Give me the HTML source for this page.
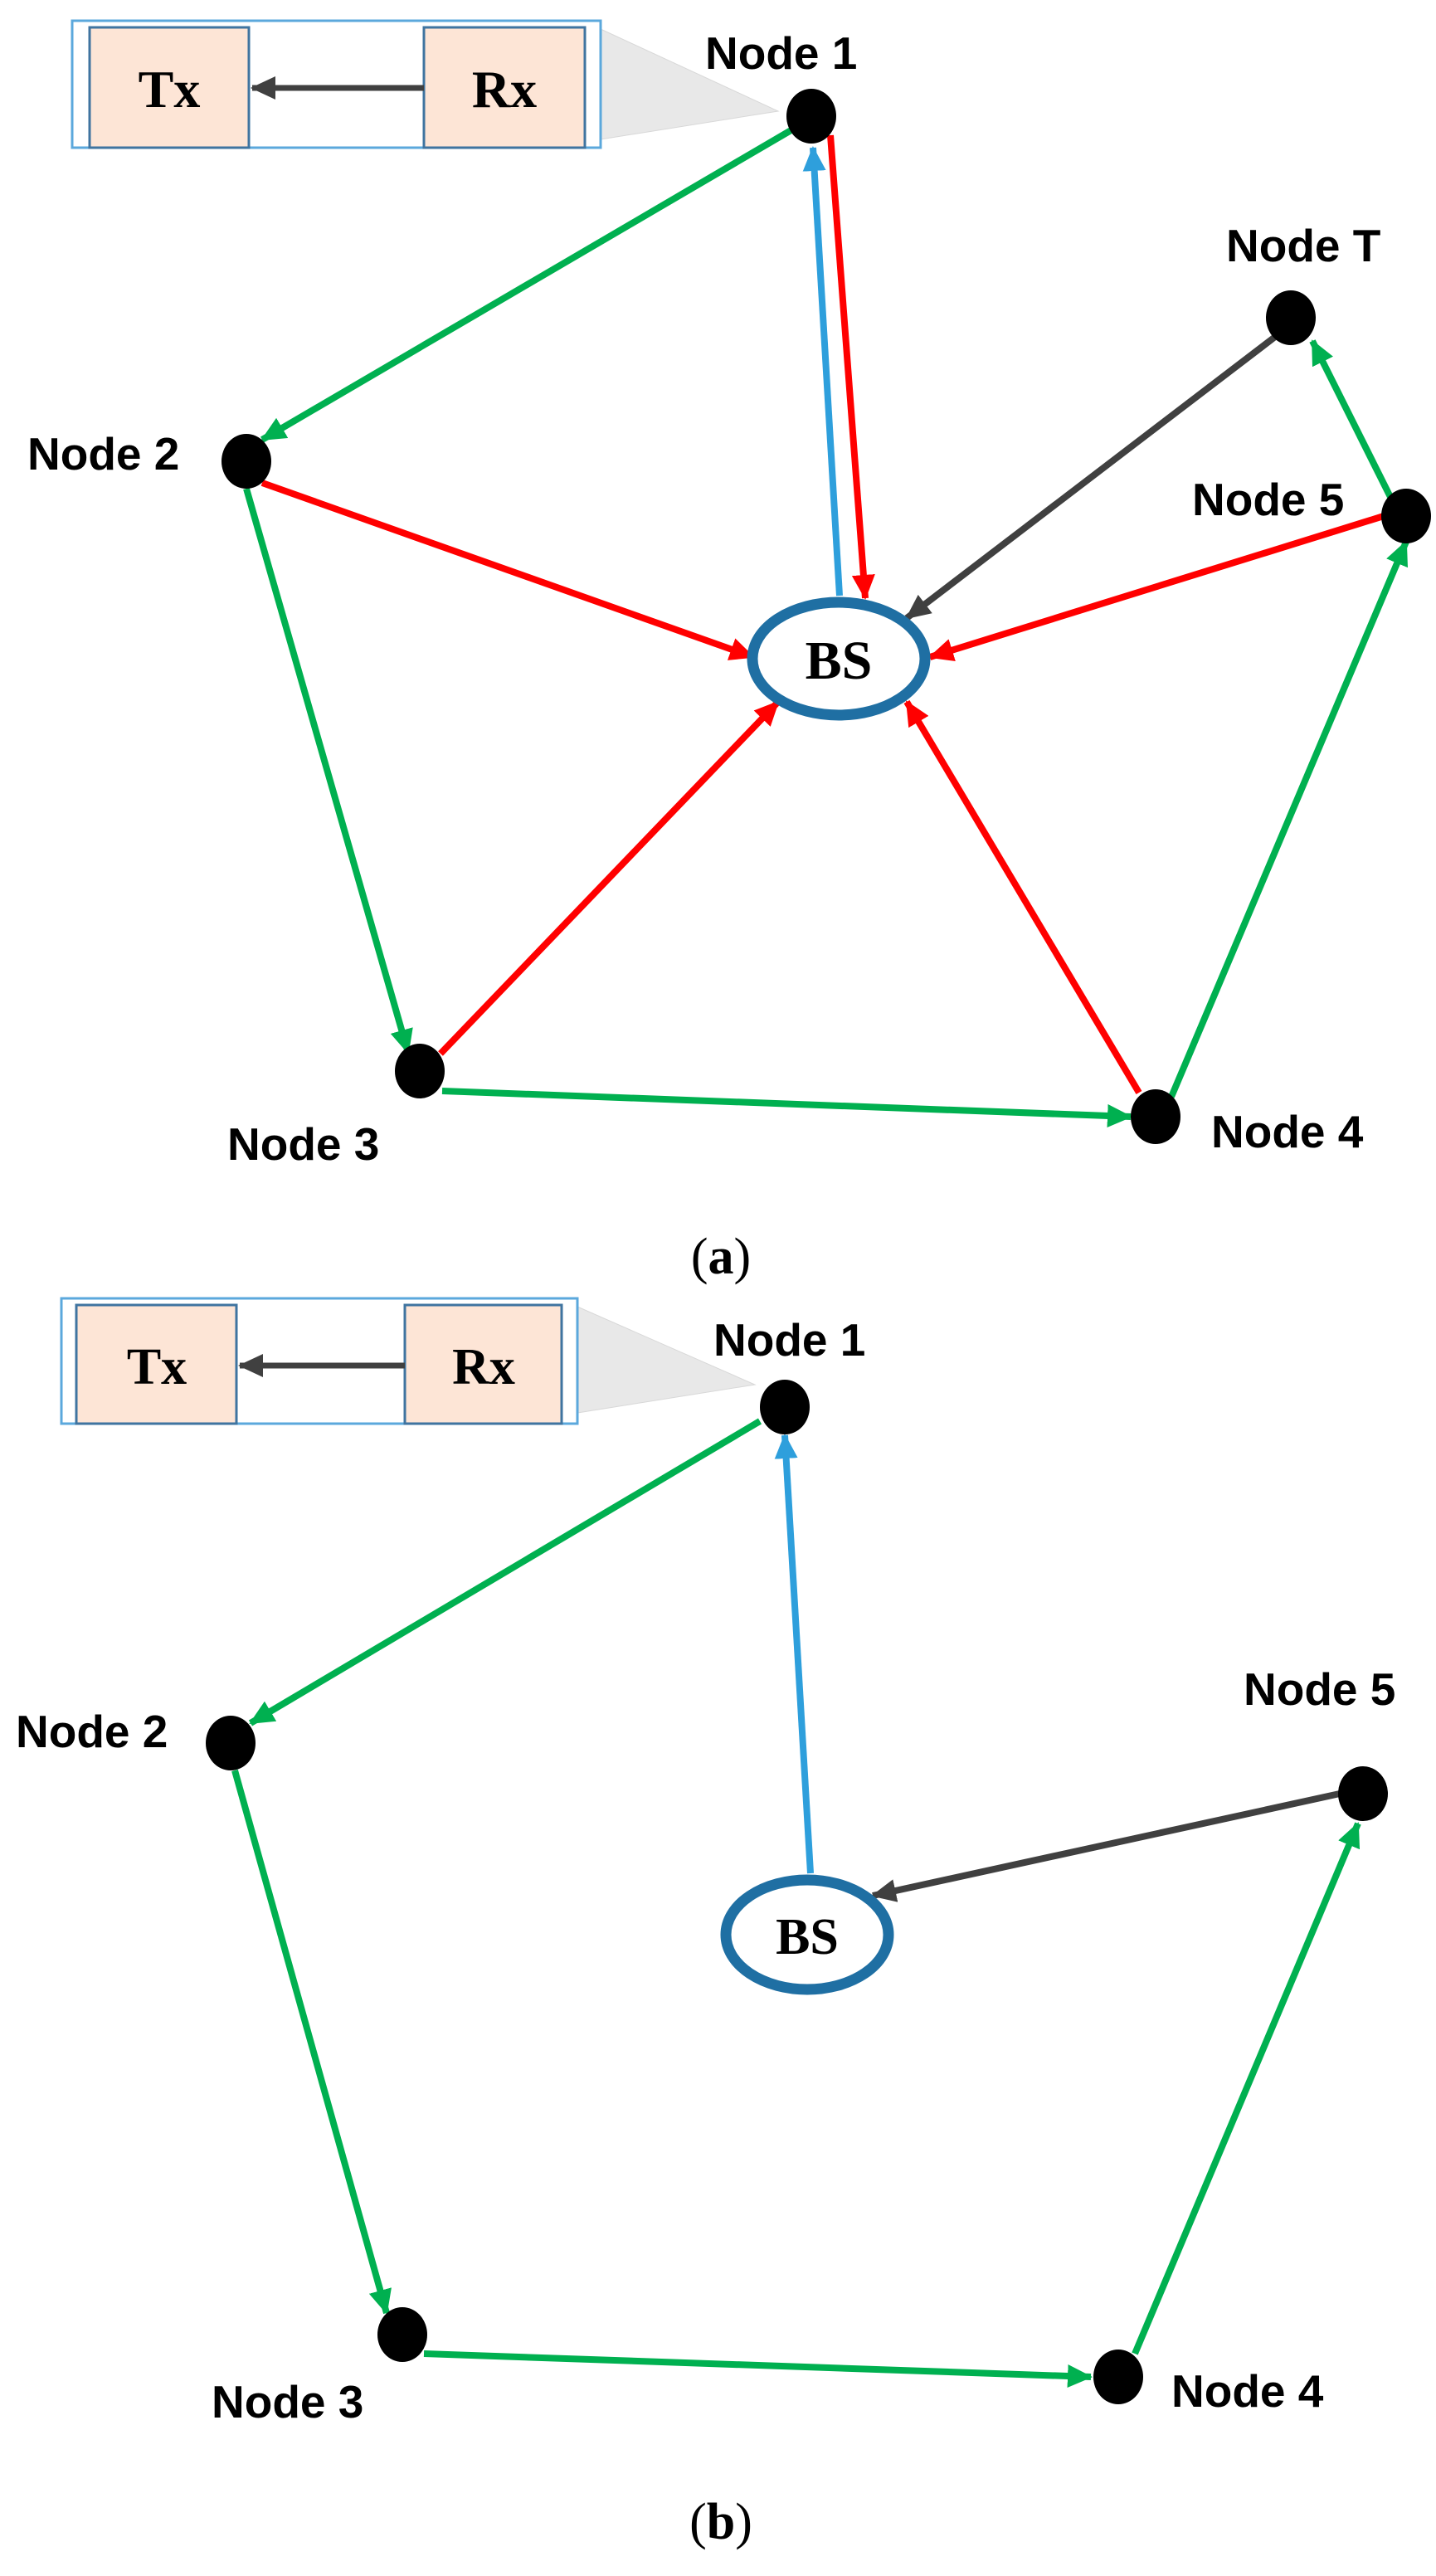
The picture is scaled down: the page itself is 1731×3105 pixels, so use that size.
<!DOCTYPE html>
<html><head><meta charset="utf-8"><style>html,body{margin:0;padding:0;background:#fff}svg{display:block}</style></head><body>
<svg width="1731" height="3105" viewBox="0 0 1731 3105" xmlns="http://www.w3.org/2000/svg">
<defs>
<marker id="g" markerUnits="userSpaceOnUse" markerWidth="30" markerHeight="28" refX="28" refY="14" orient="auto"><path d="M0,0 L30,14 L0,28 Z" fill="#00b050"/></marker>
<marker id="r" markerUnits="userSpaceOnUse" markerWidth="30" markerHeight="28" refX="28" refY="14" orient="auto"><path d="M0,0 L30,14 L0,28 Z" fill="#ff0000"/></marker>
<marker id="b" markerUnits="userSpaceOnUse" markerWidth="30" markerHeight="28" refX="28" refY="14" orient="auto"><path d="M0,0 L30,14 L0,28 Z" fill="#2e9fdc"/></marker>
<marker id="k" markerUnits="userSpaceOnUse" markerWidth="30" markerHeight="28" refX="28" refY="14" orient="auto"><path d="M0,0 L30,14 L0,28 Z" fill="#404040"/></marker>
</defs>
<g font-family="Liberation Sans, sans-serif" font-weight="bold" font-size="55" fill="#000">
<!-- (a) -->
<polygon points="724,35 938,134 724,168" fill="#e8e8e8" stroke="#d8d8d8" stroke-width="1"/>
<rect x="87" y="25" width="637" height="153" fill="#fff" stroke="#5ba8dc" stroke-width="3"/>
<rect x="108" y="33" width="192" height="145" fill="#fde5d6" stroke="#3f74a0" stroke-width="3"/>
<rect x="511" y="33" width="194" height="145" fill="#fde5d6" stroke="#3f74a0" stroke-width="3"/>
<line x1="511" y1="106" x2="304" y2="106" stroke="#404040" stroke-width="7" marker-end="url(#k)"/>
<text x="204" y="129" font-family="Liberation Serif, serif" font-size="64" text-anchor="middle">Tx</text>
<text x="608" y="129" font-family="Liberation Serif, serif" font-size="64" text-anchor="middle">Rx</text>

<g stroke-width="8" fill="none">
<line x1="957" y1="155" x2="316" y2="530" stroke="#00b050" marker-end="url(#g)"/>
<line x1="1012" y1="718" x2="980" y2="178" stroke="#2e9fdc" marker-end="url(#b)"/>
<line x1="1001" y1="163" x2="1043" y2="721" stroke="#ff0000" marker-end="url(#r)"/>
<line x1="1537" y1="406" x2="1093" y2="745" stroke="#404040" marker-end="url(#k)"/>
<line x1="1676" y1="599" x2="1582" y2="411" stroke="#00b050" marker-end="url(#g)"/>
<line x1="316" y1="582" x2="908" y2="792" stroke="#ff0000" marker-end="url(#r)"/>
<line x1="1668" y1="622" x2="1121" y2="792" stroke="#ff0000" marker-end="url(#r)"/>
<line x1="297" y1="589" x2="492" y2="1269" stroke="#00b050" marker-end="url(#g)"/>
<line x1="531" y1="1270" x2="938" y2="846" stroke="#ff0000" marker-end="url(#r)"/>
<line x1="1373" y1="1317" x2="1093" y2="846" stroke="#ff0000" marker-end="url(#r)"/>
<line x1="533" y1="1315" x2="1363" y2="1346" stroke="#00b050" marker-end="url(#g)"/>
<line x1="1412" y1="1322" x2="1695" y2="653" stroke="#00b050" marker-end="url(#g)"/>
</g>
<ellipse cx="1011" cy="794" rx="104" ry="68" fill="#fff" stroke="#1f6fa3" stroke-width="13"/>
<text x="1011" y="818" font-family="Liberation Serif, serif" font-size="66" text-anchor="middle">BS</text>
<ellipse cx="978" cy="140" rx="30" ry="33"/>
<ellipse cx="1556" cy="383" rx="30" ry="33"/>
<ellipse cx="297" cy="556" rx="30" ry="33"/>
<ellipse cx="1695" cy="622" rx="30" ry="33"/>
<ellipse cx="506" cy="1291" rx="30" ry="33"/>
<ellipse cx="1393" cy="1346" rx="30" ry="33"/>
<text x="850" y="83">Node 1</text>
<text x="1478" y="315">Node T</text>
<text x="33" y="566">Node 2</text>
<text x="1437" y="621">Node 5</text>
<text x="274" y="1398">Node 3</text>
<text x="1460" y="1383">Node 4</text>
<text x="869" y="1535" font-family="Liberation Serif, serif" font-size="62" font-weight="normal" text-anchor="middle">(<tspan font-weight="bold">a</tspan>)</text>

<!-- (b) -->
<polygon points="696,1575 910,1669 696,1703" fill="#e8e8e8" stroke="#d8d8d8" stroke-width="1"/>
<rect x="74" y="1565" width="622" height="151" fill="#fff" stroke="#5ba8dc" stroke-width="3"/>
<rect x="92" y="1573" width="193" height="143" fill="#fde5d6" stroke="#3f74a0" stroke-width="3"/>
<rect x="488" y="1573" width="189" height="143" fill="#fde5d6" stroke="#3f74a0" stroke-width="3"/>
<line x1="488" y1="1646" x2="289" y2="1646" stroke="#404040" stroke-width="7" marker-end="url(#k)"/>
<text x="189" y="1668" font-family="Liberation Serif, serif" font-size="62" text-anchor="middle">Tx</text>
<text x="583" y="1668" font-family="Liberation Serif, serif" font-size="62" text-anchor="middle">Rx</text>
<g stroke-width="8" fill="none">
<line x1="916" y1="1713" x2="302" y2="2077" stroke="#00b050" marker-end="url(#g)"/>
<line x1="977" y1="2258" x2="946" y2="1730" stroke="#2e9fdc" marker-end="url(#b)"/>
<line x1="1615" y1="2162" x2="1052" y2="2285" stroke="#404040" marker-end="url(#k)"/>
<line x1="283" y1="2134" x2="466" y2="2788" stroke="#00b050" marker-end="url(#g)"/>
<line x1="511" y1="2837" x2="1315" y2="2865" stroke="#00b050" marker-end="url(#g)"/>
<line x1="1368" y1="2837" x2="1637" y2="2198" stroke="#00b050" marker-end="url(#g)"/>
</g>
<ellipse cx="973" cy="2332" rx="98" ry="66" fill="#fff" stroke="#1f6fa3" stroke-width="13"/>
<text x="973" y="2355" font-family="Liberation Serif, serif" font-size="62" text-anchor="middle">BS</text>
<ellipse cx="946" cy="1696" rx="30" ry="33"/>
<ellipse cx="278" cy="2101" rx="30" ry="33"/>
<ellipse cx="1643" cy="2162" rx="30" ry="33"/>
<ellipse cx="485" cy="2814" rx="30" ry="33"/>
<ellipse cx="1348" cy="2865" rx="30" ry="33"/>
<text x="860" y="1634">Node 1</text>
<text x="19" y="2106">Node 2</text>
<text x="1499" y="2055">Node 5</text>
<text x="255" y="2914">Node 3</text>
<text x="1412" y="2901">Node 4</text>
<text x="869" y="3060" font-family="Liberation Serif, serif" font-size="62" font-weight="normal" text-anchor="middle">(<tspan font-weight="bold">b</tspan>)</text>
</g>
</svg>
</body></html>
